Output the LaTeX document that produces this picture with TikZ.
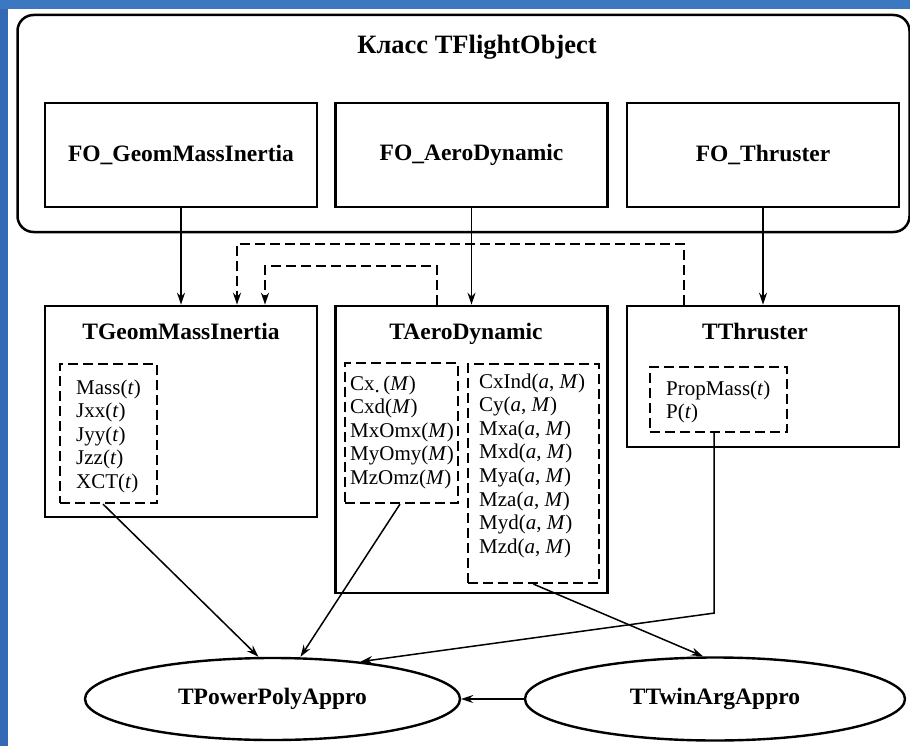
\documentclass[tikz,border=0pt]{standalone}
\usepackage{fontspec}
\setmainfont{Liberation Serif}
\usetikzlibrary{arrows.meta,shapes.geometric}
\definecolor{frametop}{HTML}{3C77C2}
\definecolor{frameleft}{HTML}{3369B5}
\newcommand{\hdrfont}{\bfseries\fontsize{23.5}{27}\selectfont}
\newcommand{\ttlfont}{\bfseries\fontsize{26.5}{30}\selectfont}
\newcommand{\lstfont}{\fontsize{21}{23.6}\selectfont}
\begin{document}
\begin{tikzpicture}[x=1pt,y=-1pt,
  box/.style={draw, line width=2.6pt, minimum width=272pt, inner sep=0pt, font=\hdrfont},
  dbox/.style={draw, line width=2.2pt, dash pattern=on 10pt off 5pt, inner sep=0pt},
  lst/.style={align=left, inner sep=0pt, font=\lstfont},
  hdr/.style={inner sep=0pt, font=\hdrfont, anchor=base},
  oval/.style={draw, ellipse, line width=2.4pt, inner sep=0pt, font=\hdrfont},
  arr/.style={line width=1.5pt, -{Stealth[length=12pt,width=8pt,inset=4pt]}},
  darr/.style={line width=2pt, dash pattern=on 10pt off 5pt, -{Stealth[length=12pt,width=8pt,inset=4pt]}}]
\useasboundingbox (0,0) rectangle (910,746);
\fill[white] (0,0) rectangle (910,746);
\fill[frameleft] (0,0) rectangle (8,746);
\fill[frametop] (0,0) rectangle (910,9);

% outer class box
\node[draw, line width=2.5pt, rounded corners=16pt, minimum width=892pt, minimum height=217pt, inner sep=0pt] (cls) at (463.5,123.5) {};
\node[inner sep=0pt, font=\ttlfont, anchor=base] (clsttl) at (477,54) {Класс TFlightObject};

% FO boxes
\node[box, minimum height=104pt] (fo1) at (181,155) {FO\_GeomMassInertia};
\node[box, minimum height=104pt] (fo2) at (471.5,155) {FO\_AeroDynamic};
\node[box, minimum height=104pt] (fo3) at (763,155) {FO\_Thruster};

% middle boxes
\node[box, minimum height=211pt] (tgeom) at (181,411.5) {};
\node[box, minimum height=287pt] (taero) at (471.5,449.5) {};
\node[box, minimum height=141pt] (tthr) at (763,376.5) {};
\node[hdr] (tgeomttl) at (181,339) {TGeomMassInertia};
\node[hdr] (taerottl) at (466,339) {TAeroDynamic};
\node[hdr] (tthrttl) at (755,339) {TThruster};

% dashed inner boxes
\node[dbox, minimum width=97pt, minimum height=139pt] (dgeom) at (108.5,433.5) {};
\node[dbox, minimum width=113pt, minimum height=140pt] (daeroa) at (401.5,433) {};
\node[dbox, minimum width=131pt, minimum height=219pt] (daerob) at (533.5,473.5) {};
\node[dbox, minimum width=137pt, minimum height=65pt] (dthr) at (718.5,399.5) {};

% lists (anchored at the baseline of their last line)
\node[lst, anchor=base west] (lgeom) at (76,488.4) {Mass(\textit{t})\\Jxx(\textit{t})\\Jyy(\textit{t})\\Jzz(\textit{t})\\XCT(\textit{t})};
\node[lst, anchor=base west] (laeroa) at (350,484.4) {Cx\raisebox{-0.3ex}{.}\,(\textit{M})\\Cxd(\textit{M})\\MxOmx(\textit{M})\\MyOmy(\textit{M})\\MzOmz(\textit{M})};
\node[lst, anchor=base west] (laerob) at (479,553.2) {CxInd(\textit{a}, \textit{M})\\Cy(\textit{a}, \textit{M})\\Mxa(\textit{a}, \textit{M})\\Mxd(\textit{a}, \textit{M})\\Mya(\textit{a}, \textit{M})\\Mza(\textit{a}, \textit{M})\\Myd(\textit{a}, \textit{M})\\Mzd(\textit{a}, \textit{M})};
\node[lst, anchor=base west] (lthr) at (666,418.6) {PropMass(\textit{t})\\P(\textit{t})};

% ellipses
\node[oval, minimum width=375pt, minimum height=82pt] (ppoly) at (272.5,699) {TPowerPolyAppro};
\node[oval, minimum width=380pt, minimum height=83pt] (twin) at (715,699) {TTwinArgAppro};

% connectors
\draw[arr] (fo1) -- (tgeom);
\draw[arr] (fo2) -- (taero);
\draw[arr] (fo3) -- (tthr);
\draw[darr] ([xshift=-79pt]tthr.north) -- ++(0,-61) -| ([xshift=56pt]tgeom.north);
\draw[darr] ([xshift=-35pt]taero.north) -- ++(0,-39) -| ([xshift=84pt]tgeom.north);
\draw[arr] ([xshift=-5.5pt]dgeom.south) -- ([xshift=-14pt]ppoly.north);
\draw[arr] ([xshift=-1.5pt]daeroa.south) -- ([xshift=28pt]ppoly.north);
\draw[arr] ([xshift=-4.5pt]dthr.south) -- ++(0,180) -- (ppoly.23);
\draw[arr] (daerob.south) -- ([xshift=-12pt]twin.north);
\draw[arr] (twin) -- (ppoly);
\end{tikzpicture}
\end{document}
